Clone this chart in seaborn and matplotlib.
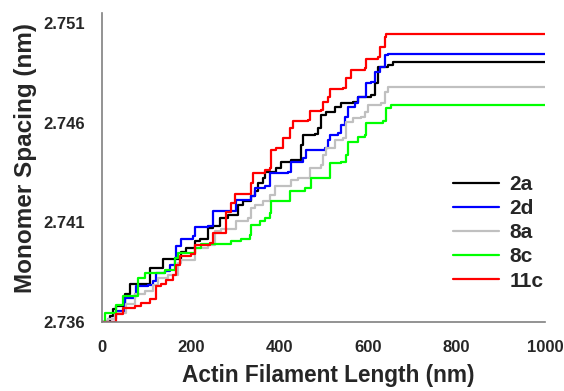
import numpy as np
import pandas as pd
import matplotlib
matplotlib.use("Agg")
import matplotlib.pyplot as plt
import seaborn as sns

# step traces (x: filament length nm, y: spacing nm)
x_2a = [0, 17.3, 24.8, 32.4, 51.2, 62.5, 107.7, 137.8, 179.2, 190.5, 209.3, 220.6,
        239.5, 250.8, 265.8, 284.6, 307.2, 318.5, 337.3, 344.9, 352.4, 363.7, 367.5,
        393.8, 405.1, 427.7, 450.3, 454.1, 480.4, 488.0, 495.5, 506.8, 525.6, 540.7,
        567.0, 578.3, 608.4, 616.0, 623.5, 646.1, 657.4, 1000]
y_2a = [2.7360, 2.7363, 2.73663, 2.7368, 2.73738, 2.73792, 2.73872, 2.73918, 2.73952,
        2.73972, 2.74005, 2.74018, 2.74072, 2.7408, 2.74122, 2.74138, 2.74188, 2.74205,
        2.7423, 2.74255, 2.74297, 2.74322, 2.74355, 2.74372, 2.74405, 2.74413, 2.74488,
        2.74538, 2.74542, 2.74572, 2.74638, 2.74655, 2.7468, 2.74697, 2.74705, 2.7473,
        2.74738, 2.74797, 2.7488, 2.74888, 2.74905, 2.74905]

x_2d = [0, 13.6, 32.4, 51.2, 73.8, 77.6, 103.9, 115.2, 122.7, 141.6, 152.9, 164.2,
        167.9, 179.2, 205.6, 209.3, 239.5, 250.8, 303.5, 337.3, 344.9, 367.5, 378.8,
        420.2, 427.7, 454.1, 461.6, 503.0, 510.5, 514.3, 533.1, 540.7, 548.2, 555.7,
        570.8, 578.3, 597.1, 608.4, 616.0, 627.3, 638.6, 646.1, 1000]
y_2d = [2.7360, 2.73613, 2.73655, 2.73722, 2.73738, 2.7378, 2.73788, 2.73805, 2.73847,
        2.73855, 2.73888, 2.73922, 2.7398, 2.74018, 2.7403, 2.74075, 2.7408, 2.74155,
        2.74213, 2.7423, 2.74272, 2.7428, 2.74347, 2.74355, 2.74405, 2.74422, 2.74463,
        2.74472, 2.74513, 2.74538, 2.74547, 2.74588, 2.7463, 2.7468, 2.74697, 2.7473,
        2.74797, 2.74805, 2.74855, 2.7488, 2.74938, 2.74943, 2.74943]

x_8a = [0, 13.6, 28.6, 55.0, 73.8, 96.4, 115.2, 126.5, 149.1, 171.7, 179.2, 209.3,
        239.5, 254.5, 269.6, 303.5, 329.8, 337.3, 344.9, 363.7, 378.8, 390.1, 427.7,
        442.8, 469.1, 495.5, 499.2, 506.8, 525.6, 544.4, 552.0, 567.0, 585.8, 593.4,
        600.9, 631.0, 638.6, 646.1, 1000]
y_8a = [2.7360, 2.73613, 2.73647, 2.73688, 2.73738, 2.73758, 2.73788, 2.73822, 2.73838,
        2.73897, 2.73913, 2.73972, 2.73988, 2.74055, 2.74067, 2.74105, 2.74122, 2.74172,
        2.74188, 2.74205, 2.74238, 2.7428, 2.74313, 2.74322, 2.74372, 2.74388, 2.74438,
        2.74472, 2.74513, 2.74522, 2.74605, 2.74622, 2.7463, 2.74655, 2.74688, 2.74697,
        2.74755, 2.74777, 2.74777]

x_8c = [0, 6.0, 32.4, 47.4, 81.3, 96.4, 141.6, 164.2, 171.7, 209.3, 224.4, 292.2,
        314.8, 333.6, 337.3, 356.2, 367.5, 378.8, 382.5, 424.0, 457.8, 472.9, 510.5,
        514.3, 540.7, 552.0, 555.7, 578.3, 593.4, 597.1, 634.8, 642.3, 653.6, 1000]
y_8c = [2.7360, 2.73647, 2.73685, 2.7373, 2.73822, 2.73847, 2.73863, 2.73922, 2.73947,
        2.73972, 2.73992, 2.74005, 2.74018, 2.74038, 2.74088, 2.74105, 2.74122, 2.74147,
        2.74205, 2.74255, 2.74272, 2.74322, 2.74325, 2.74397, 2.74405, 2.74438, 2.74505,
        2.7453, 2.74538, 2.74597, 2.74608, 2.74672, 2.7469, 2.7469]

x_11c = [0, 32.4, 47.4, 73.8, 88.9, 107.7, 122.7, 134.0, 145.3, 160.4, 167.9, 175.5,
         201.8, 209.3, 243.2, 250.8, 280.9, 292.2, 299.7, 337.3, 341.1, 367.5, 378.8,
         381.0, 393.8, 408.9, 424.0, 431.5, 465.4, 469.1, 495.5, 499.2, 510.5, 514.3,
         544.4, 552.0, 563.3, 593.4, 597.1, 623.5, 627.3, 638.6, 642.3, 1000]
y_11c = [2.7360, 2.73638, 2.73672, 2.7368, 2.73697, 2.73717, 2.7378, 2.73792, 2.73813,
         2.73838, 2.73888, 2.7393, 2.73942, 2.73988, 2.73997, 2.74047, 2.74152, 2.74197,
         2.74242, 2.74297, 2.74347, 2.74363, 2.74372, 2.74463, 2.74472, 2.74522, 2.74572,
         2.74608, 2.74613, 2.74658, 2.74663, 2.74705, 2.7473, 2.74768, 2.74775, 2.74825,
         2.74863, 2.74872, 2.74918, 2.7493, 2.7498, 2.7503, 2.75047, 2.75047]

labels = ["2a", "2d", "8a", "8c", "11c"]
colors = ["#000000", "#0000ff", "#c0c0c0", "#00ff00", "#ff0000"]

xs = [x_2a, x_2d, x_8a, x_8c, x_11c]
ys = [y_2a, y_2d, y_8a, y_8c, y_11c]
df = pd.concat([pd.DataFrame({"length": x, "spacing": y, "series": lab})
                for x, y, lab in zip(xs, ys, labels)], ignore_index=True)

sns.set_style("white")
plt.rcParams["font.family"] = ["Liberation Sans", "DejaVu Sans"]
plt.rcParams["font.weight"] = "bold"

fig = plt.figure(figsize=(5.64, 3.91), dpi=100)
ax = fig.add_axes([0.181, 0.1765, 0.785, 0.79])

sns.lineplot(data=df, x="length", y="spacing", hue="series", hue_order=labels,
             palette=colors, estimator=None, sort=False, drawstyle="steps-post",
             linewidth=1.6, ax=ax)

ax.set_xlim(0, 1000)
ax.set_ylim(2.736, 2.7515)
ax.set_xticks([0, 200, 400, 600, 800, 1000])
ax.set_yticks([2.736, 2.741, 2.746, 2.751])
ax.set_yticklabels(["2.736", "2.741", "2.746", "2.751"])

for s in ["top", "right"]:
    ax.spines[s].set_visible(False)
for s in ["left", "bottom"]:
    ax.spines[s].set_color("#808080")
    ax.spines[s].set_linewidth(1.2)
ax.tick_params(axis="both", direction="out", length=4, width=1, color="#808080",
               labelsize=12)
ax.tick_params(axis="y", pad=8)
ax.tick_params(axis="x", pad=9)
for t in ax.get_xticklabels() + ax.get_yticklabels():
    t.set_fontweight("bold")

ax.set_xlabel("Actin Filament Length (nm)", fontsize=16.3, fontweight="bold", labelpad=8)
ax.set_ylabel("Monomer Spacing (nm)", fontsize=17.5, fontweight="bold", labelpad=6)
ax.xaxis.set_label_coords(0.51, -0.135)
ax.yaxis.set_label_coords(-0.146, 0.531)

leg = ax.legend(loc="upper left", bbox_to_anchor=(0.750, 0.537), frameon=False,
                handlelength=2.2, handletextpad=0.5, labelspacing=0.25,
                prop={"weight": "bold", "size": 15})
for line in leg.get_lines():
    line.set_linewidth(1.6)

fig.savefig("out.png", dpi=100)
